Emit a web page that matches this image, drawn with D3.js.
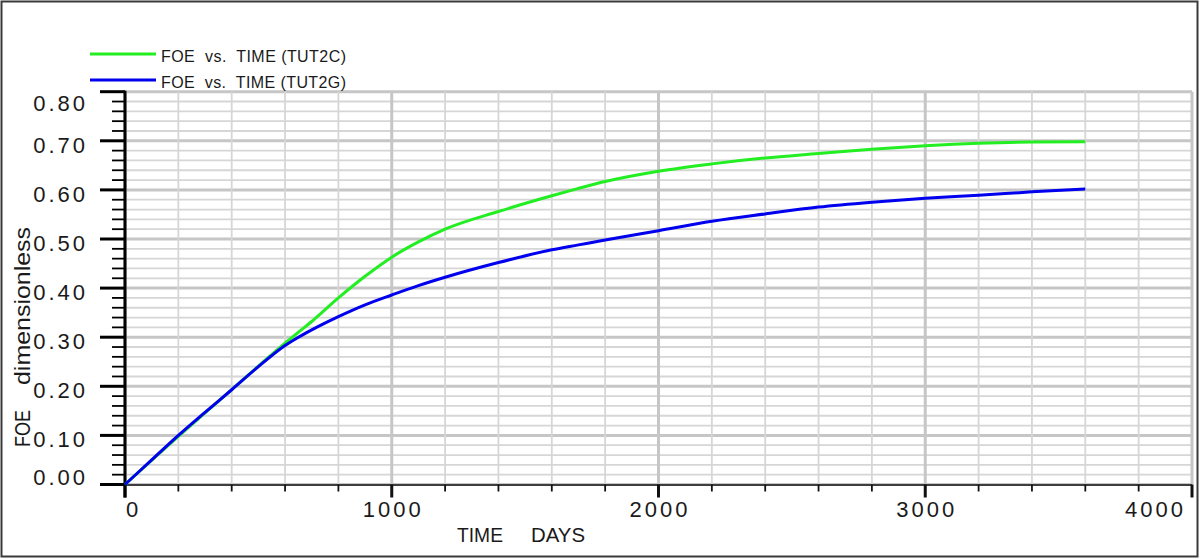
<!DOCTYPE html>
<html>
<head>
<meta charset="utf-8">
<script src="https://cdn.jsdelivr.net/npm/d3@7"></script>
<style>
  html, body { margin: 0; padding: 0; background: #fff; }
  svg { display: block; }
  text { font-family: "Liberation Sans", Arial, sans-serif; fill: #1a1a1a; }
</style>
</head>
<body>
<svg id="chart" width="1200" height="559"></svg>
<script>
// ---- data ----
const days = [0, 100, 200, 300, 400, 500, 600, 650, 700, 800, 900, 1000, 1100, 1200, 1400, 1600, 1700, 1800, 2000, 2200, 2400, 2600, 2800, 3000, 3200, 3400, 3600];
const foeTUT2C = [0, 0.049, 0.098, 0.146, 0.193, 0.241, 0.288, 0.310, 0.332, 0.380, 0.424, 0.463, 0.494, 0.520, 0.556, 0.588, 0.603, 0.617, 0.638, 0.653, 0.665, 0.674, 0.683, 0.690, 0.695, 0.6975, 0.698];
const foeTUT2G = [0, 0.050, 0.100, 0.147, 0.193, 0.240, 0.283, 0.300, 0.315, 0.342, 0.366, 0.386, 0.405, 0.422, 0.452, 0.478, 0.488, 0.498, 0.517, 0.536, 0.551, 0.565, 0.575, 0.583, 0.589, 0.596, 0.602];
const seriesNames = ["FOE  vs.  TIME (TUT2C)", "FOE  vs.  TIME (TUT2G)"];
const seriesColors = ["#22ee22", "#0000ee"];
const xTickValues = [0, 1000, 2000, 3000, 4000];
const yTickValues = [0, 0.1, 0.2, 0.3, 0.4, 0.5, 0.6, 0.7, 0.8];
const xTitleWords = ["TIME", "DAYS"];
const yTitleWords = ["FOE", "dimensionless"];

// ---- layout ----
const svg = d3.select("#chart");
const plot = { left: 125, right: 1192, top: 91.7, bottom: 484.5 };
const x = d3.scaleLinear().domain([0, 4000]).range([plot.left, plot.right]);
const y = d3.scaleLinear().domain([0, 0.8]).range([plot.bottom, plot.top]);

// outer frame
svg.append("rect").attr("x", 1.5).attr("y", 1.5).attr("width", 1196).attr("height", 555)
  .attr("fill", "none").attr("stroke", "#3a3a3a").attr("stroke-width", 2);

// ---- grid ----
const grid = svg.append("g");
const yMinor = d3.range(0, 41).map(i => i * 0.02);
const xMinor = d3.range(0, 21).map(i => i * 200);
grid.selectAll("line.hy").data(yMinor).join("line")
  .attr("x1", plot.left).attr("x2", plot.right)
  .attr("y1", d => y(d)).attr("y2", d => y(d))
  .attr("stroke", d => (Math.round(d * 50) % 5 === 0) ? "#c6c6c6" : "#d6d6d6")
  .attr("stroke-width", d => (Math.round(d * 50) % 5 === 0) ? 3 : 1.8);
grid.selectAll("line.vx").data(xMinor).join("line")
  .attr("y1", plot.top).attr("y2", plot.bottom)
  .attr("x1", d => x(d)).attr("x2", d => x(d))
  .attr("stroke", d => (d % 1000 === 0) ? "#c6c6c6" : "#d6d6d6")
  .attr("stroke-width", d => (d % 1000 === 0) ? 3 : 1.8);

// ---- axes ----
const ax = svg.append("g");
ax.append("line").attr("x1", plot.left).attr("x2", plot.right)
  .attr("y1", plot.bottom + 0.5).attr("y2", plot.bottom + 0.5)
  .attr("stroke", "#111").attr("stroke-width", 1.6);
ax.selectAll("line.xt").data(xMinor).join("line")
  .attr("x1", d => x(d)).attr("x2", d => x(d))
  .attr("y1", plot.bottom).attr("y2", d => plot.bottom + ((d % 1000 === 0) ? 13 : 7))
  .attr("stroke", "#111").attr("stroke-width", d => (d % 1000 === 0) ? 3 : 1.8);
ax.append("line").attr("x1", plot.left).attr("x2", plot.left)
  .attr("y1", plot.top - 1).attr("y2", plot.bottom + 13)
  .attr("stroke", "#000").attr("stroke-width", 3);
ax.selectAll("line.yt").data(yMinor).join("line")
  .attr("y1", d => y(d)).attr("y2", d => y(d))
  .attr("x2", plot.left)
  .attr("x1", d => (Math.round(d * 50) % 5 === 0) ? plot.left - 25 : plot.left - 13)
  .attr("stroke", "#000").attr("stroke-width", d => (Math.round(d * 50) % 5 === 0) ? 3 : 1.8);

// y tick labels (clamped inside the axis extent)
const labelFont = 22, labelSpacing = 3, digitH = 16;
ax.selectAll("text.yl").data(yTickValues).join("text")
  .attr("text-anchor", "end")
  .attr("x", plot.left - 37)
  .attr("y", d => Math.min(plot.bottom + 0.5, Math.max(plot.top + 3.3 + digitH, y(d) + 12)))
  .style("font-size", labelFont + "px")
  .style("letter-spacing", labelSpacing + "px")
  .text(d => d3.format(".2f")(d));

// x tick labels
const xl = ax.selectAll("text.xl").data(xTickValues).join("text")
  .attr("y", plot.bottom + 32.5)
  .style("font-size", labelFont + "px")
  .style("letter-spacing", labelSpacing + "px")
  .text(d => d3.format("d")(d));
xl.each(function(d) {
  const w = this.getComputedTextLength() - labelSpacing;
  let left = x(d) - w / 2;
  left = Math.max(plot.left + 1, Math.min(plot.right - 9 - w, left));
  d3.select(this).attr("x", left);
});

// axis titles
const xt = svg.append("text").attr("y", 542).style("font-size", "21px");
xt.append("tspan").attr("x", 457).attr("textLength", 46).attr("lengthAdjust", "spacingAndGlyphs").text(xTitleWords[0]);
xt.append("tspan").attr("x", 531).attr("textLength", 54).attr("lengthAdjust", "spacingAndGlyphs").text(xTitleWords[1]);

svg.append("text").attr("transform", "translate(30,447) rotate(-90)")
  .style("font-size", "22px").attr("textLength", 37).attr("lengthAdjust", "spacingAndGlyphs")
  .text(yTitleWords[0]);
svg.append("text").attr("transform", "translate(30,385) rotate(-90)")
  .style("font-size", "22px").attr("textLength", 158).attr("lengthAdjust", "spacingAndGlyphs")
  .text(yTitleWords[1]);

// ---- series ----
const line = d3.line().x(d => x(d[0])).y(d => y(d[1])).curve(d3.curveMonotoneX);
const series = [foeTUT2C, foeTUT2G];
svg.append("g").selectAll("path").data(series).join("path")
  .attr("d", vals => line(days.map((t, i) => [t, vals[i]])))
  .attr("fill", "none")
  .attr("stroke", (d, i) => seriesColors[i])
  .attr("stroke-width", 3)
  .attr("stroke-linejoin", "round");

// ---- legend ----
const lg = svg.append("g").selectAll("g").data(seriesNames).join("g")
  .attr("transform", (d, i) => `translate(0,${54 + i * 26})`);
lg.append("line").attr("x1", 90).attr("x2", 156).attr("y1", 0).attr("y2", 0)
  .attr("stroke", (d, i) => seriesColors[i]).attr("stroke-width", 3);
lg.append("text").attr("x", 161).attr("y", 7.5)
  .style("font-size", "16px").style("white-space", "pre")
  .attr("textLength", 185).attr("lengthAdjust", "spacing")
  .text(d => d);
</script>
</body>
</html>
